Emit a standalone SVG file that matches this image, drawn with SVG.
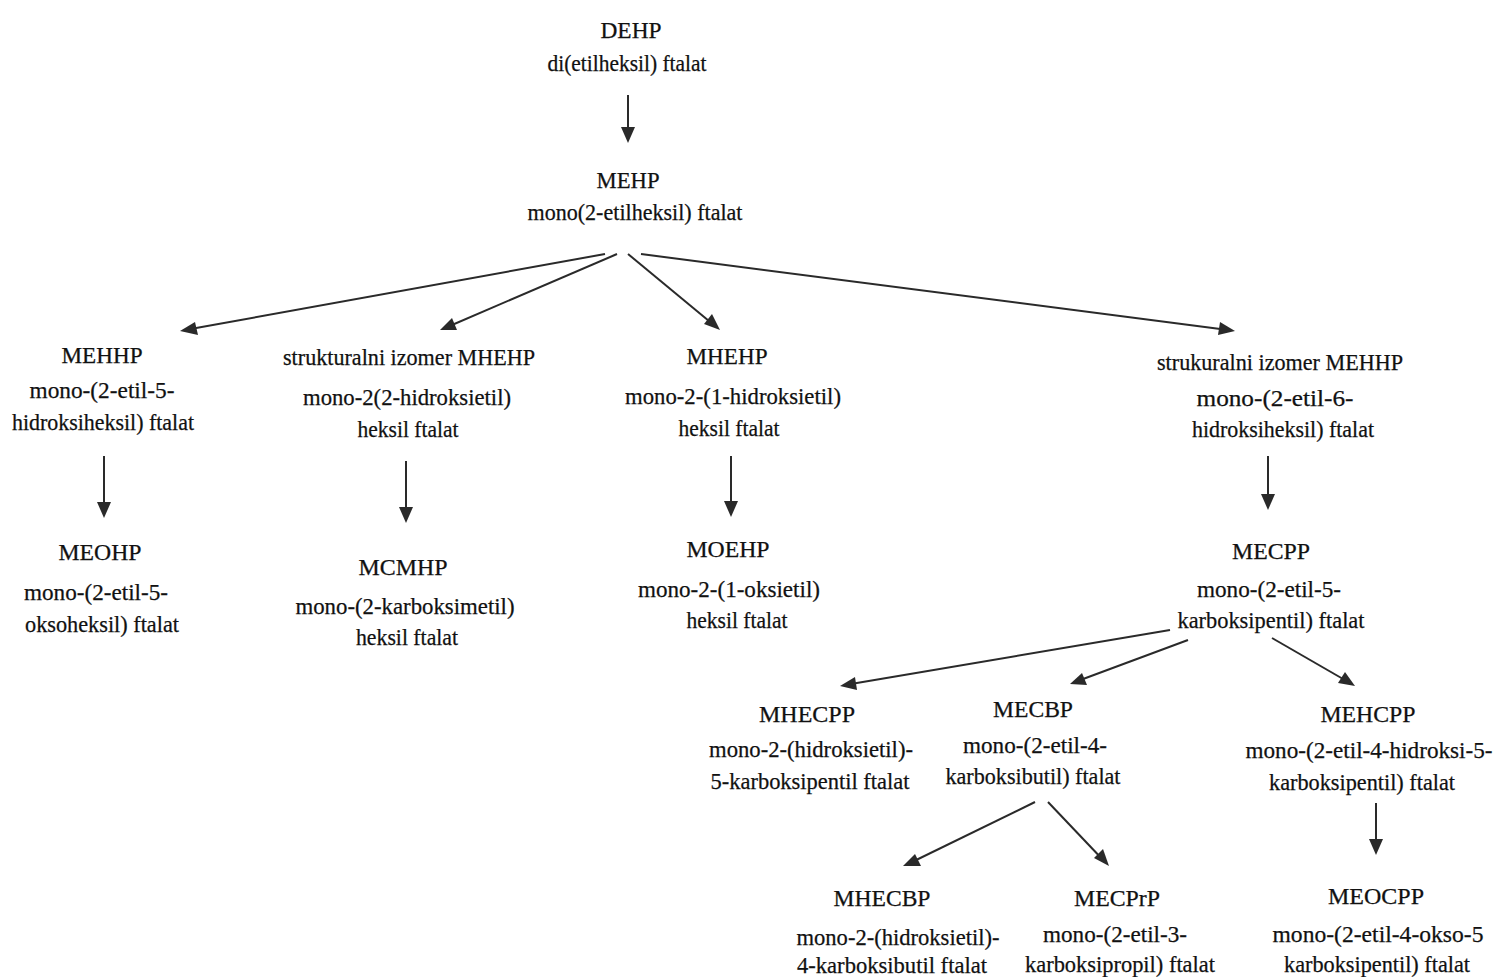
<svg xmlns="http://www.w3.org/2000/svg" width="1496" height="977" viewBox="0 0 1496 977">
<style>
text{font-family:"Liberation Serif","DejaVu Serif",serif;font-size:23px;fill:#111;stroke:#111;stroke-width:0.25;text-anchor:middle}
.c{stroke:#2a2a2a;stroke-width:2;fill:none}
.h{fill:#2a2a2a}
</style>
<rect width="1496" height="977" fill="#fff"/>
<g id="connectors">
<line class="c" x1="628" y1="95" x2="628" y2="130"/>
<path class="h" d="M621,127 L628,143 L635,127 z"/>
<line class="c" x1="605" y1="254" x2="185" y2="330"/>
<path class="h" d="M180,331 l15,-9 l3,13 z"/>
<line class="c" x1="617" y1="254" x2="445" y2="328"/>
<path class="h" d="M440,330 l12,-12 l5,12 z"/>
<line class="c" x1="628" y1="254" x2="715" y2="326"/>
<path class="h" d="M720,330 l-16,-6 l8,-10 z"/>
<line class="c" x1="641" y1="254" x2="1228" y2="330"/>
<path class="h" d="M1235,331 l-17,4 l2,-13 z"/>
<line class="c" x1="104" y1="456" x2="104" y2="505"/>
<path class="h" d="M97,502 L104,518 L111,502 z"/>
<line class="c" x1="406" y1="461" x2="406" y2="510"/>
<path class="h" d="M399,507 L406,523 L413,507 z"/>
<line class="c" x1="731" y1="456" x2="731" y2="504"/>
<path class="h" d="M724,501 L731,517 L738,501 z"/>
<line class="c" x1="1268" y1="456" x2="1268" y2="497"/>
<path class="h" d="M1261,494 L1268,510 L1275,494 z"/>
<line class="c" x1="1170" y1="630" x2="845" y2="685"/>
<path class="h" d="M840,686 l15,-9 l2,13 z"/>
<line class="c" x1="1188" y1="640" x2="1075" y2="682"/>
<path class="h" d="M1070,684 l12,-11 l5,12 z"/>
<line class="c" x1="1272" y1="638" x2="1350" y2="683"/>
<path class="h" d="M1355,686 l-17,-3 l7,-11 z"/>
<line class="c" x1="1376" y1="803" x2="1376" y2="842"/>
<path class="h" d="M1369,839 L1376,855 L1383,839 z"/>
<line class="c" x1="1035" y1="802" x2="908" y2="864"/>
<path class="h" d="M903,866 l12,-12 l6,12 z"/>
<line class="c" x1="1048" y1="802" x2="1105" y2="862"/>
<path class="h" d="M1109,866 l-15,-8 l9,-9 z"/>
</g>
<g id="DEHP">
<text x="631" y="38" textLength="61" lengthAdjust="spacingAndGlyphs">DEHP</text>
<text x="627" y="71" textLength="159" lengthAdjust="spacingAndGlyphs">di(etilheksil) ftalat</text>
</g>
<g id="MEHP">
<text x="628" y="188" textLength="63" lengthAdjust="spacingAndGlyphs">MEHP</text>
<text x="635" y="220" textLength="215" lengthAdjust="spacingAndGlyphs">mono(2-etilheksil) ftalat</text>
</g>
<g id="MEHHP">
<text x="102" y="363" textLength="81" lengthAdjust="spacingAndGlyphs">MEHHP</text>
<text x="102" y="398" textLength="145" lengthAdjust="spacingAndGlyphs">mono-(2-etil-5-</text>
<text x="103" y="430" textLength="182" lengthAdjust="spacingAndGlyphs">hidroksiheksil) ftalat</text>
</g>
<g id="MEOHP">
<text x="100" y="560" textLength="83" lengthAdjust="spacingAndGlyphs">MEOHP</text>
<text x="96" y="600" textLength="144" lengthAdjust="spacingAndGlyphs">mono-(2-etil-5-</text>
<text x="102" y="632" textLength="154" lengthAdjust="spacingAndGlyphs">oksoheksil) ftalat</text>
</g>
<g id="MHEHP-izomer">
<text x="409" y="365" textLength="252" lengthAdjust="spacingAndGlyphs">strukturalni izomer MHEHP</text>
<text x="407" y="405" textLength="208" lengthAdjust="spacingAndGlyphs">mono-2(2-hidroksietil)</text>
<text x="408" y="437" textLength="101" lengthAdjust="spacingAndGlyphs">heksil ftalat</text>
</g>
<g id="MCMHP">
<text x="403" y="575" textLength="89" lengthAdjust="spacingAndGlyphs">MCMHP</text>
<text x="405" y="614" textLength="219" lengthAdjust="spacingAndGlyphs">mono-(2-karboksimetil)</text>
<text x="407" y="645" textLength="102" lengthAdjust="spacingAndGlyphs">heksil ftalat</text>
</g>
<g id="MHEHP">
<text x="727" y="364" textLength="81" lengthAdjust="spacingAndGlyphs">MHEHP</text>
<text x="733" y="404" textLength="216" lengthAdjust="spacingAndGlyphs">mono-2-(1-hidroksietil)</text>
<text x="729" y="436" textLength="101" lengthAdjust="spacingAndGlyphs">heksil ftalat</text>
</g>
<g id="MOEHP">
<text x="728" y="557" textLength="83" lengthAdjust="spacingAndGlyphs">MOEHP</text>
<text x="729" y="597" textLength="182" lengthAdjust="spacingAndGlyphs">mono-2-(1-oksietil)</text>
<text x="737" y="628" textLength="101" lengthAdjust="spacingAndGlyphs">heksil ftalat</text>
</g>
<g id="MEHHP-izomer">
<text x="1280" y="370" textLength="246" lengthAdjust="spacingAndGlyphs">strukuralni izomer MEHHP</text>
<text x="1275" y="406" textLength="157" lengthAdjust="spacingAndGlyphs">mono-(2-etil-6-</text>
<text x="1283" y="437" textLength="182" lengthAdjust="spacingAndGlyphs">hidroksiheksil) ftalat</text>
</g>
<g id="MECPP">
<text x="1271" y="559" textLength="78" lengthAdjust="spacingAndGlyphs">MECPP</text>
<text x="1269" y="597" textLength="144" lengthAdjust="spacingAndGlyphs">mono-(2-etil-5-</text>
<text x="1271" y="628" textLength="187" lengthAdjust="spacingAndGlyphs">karboksipentil) ftalat</text>
</g>
<g id="MHECPP">
<text x="807" y="722" textLength="96" lengthAdjust="spacingAndGlyphs">MHECPP</text>
<text x="811" y="757" textLength="204" lengthAdjust="spacingAndGlyphs">mono-2-(hidroksietil)-</text>
<text x="810" y="789" textLength="199" lengthAdjust="spacingAndGlyphs">5-karboksipentil ftalat</text>
</g>
<g id="MECBP">
<text x="1033" y="717" textLength="80" lengthAdjust="spacingAndGlyphs">MECBP</text>
<text x="1035" y="753" textLength="144" lengthAdjust="spacingAndGlyphs">mono-(2-etil-4-</text>
<text x="1033" y="784" textLength="175" lengthAdjust="spacingAndGlyphs">karboksibutil) ftalat</text>
</g>
<g id="MEHCPP">
<text x="1368" y="722" textLength="95" lengthAdjust="spacingAndGlyphs">MEHCPP</text>
<text x="1369" y="758" textLength="247" lengthAdjust="spacingAndGlyphs">mono-(2-etil-4-hidroksi-5-</text>
<text x="1362" y="790" textLength="186" lengthAdjust="spacingAndGlyphs">karboksipentil) ftalat</text>
</g>
<g id="MHECBP">
<text x="882" y="906" textLength="97" lengthAdjust="spacingAndGlyphs">MHECBP</text>
<text x="898" y="945" textLength="203" lengthAdjust="spacingAndGlyphs">mono-2-(hidroksietil)-</text>
<text x="892" y="973" textLength="190" lengthAdjust="spacingAndGlyphs">4-karboksibutil ftalat</text>
</g>
<g id="MECPrP">
<text x="1117" y="906" textLength="86" lengthAdjust="spacingAndGlyphs">MECPrP</text>
<text x="1115" y="942" textLength="144" lengthAdjust="spacingAndGlyphs">mono-(2-etil-3-</text>
<text x="1120" y="972" textLength="190" lengthAdjust="spacingAndGlyphs">karboksipropil) ftalat</text>
</g>
<g id="MEOCPP">
<text x="1376" y="904" textLength="96" lengthAdjust="spacingAndGlyphs">MEOCPP</text>
<text x="1378" y="942" textLength="211" lengthAdjust="spacingAndGlyphs">mono-(2-etil-4-okso-5</text>
<text x="1377" y="972" textLength="186" lengthAdjust="spacingAndGlyphs">karboksipentil) ftalat</text>
</g>
</svg>
